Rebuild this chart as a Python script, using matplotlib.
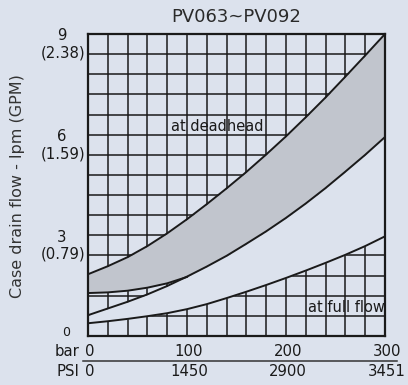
import numpy as np
import matplotlib
matplotlib.use('Agg')
import matplotlib.pyplot as plt
from matplotlib.lines import Line2D

plt.rcParams['font.family'] = 'DejaVu Sans'

# values, one per grid column (every 20 bar)
pressure_bar = [0, 20, 40, 60, 80, 100, 120, 140, 160, 180, 200, 220, 240, 260, 280, 300]
deadhead_upper = [1.84, 2.08, 2.35, 2.68, 3.06, 3.48, 3.93, 4.40, 4.89, 5.41, 5.95, 6.52, 7.11, 7.73, 8.36, 9.00]
deadhead_lower = [1.28, 1.30, 1.35, 1.44, 1.57, 1.76]   # 0..100 bar, then runs into band_top
band_top = [0.62, 0.82, 1.02, 1.24, 1.49, 1.77, 2.07, 2.39, 2.75, 3.12, 3.52, 3.95, 4.41, 4.90, 5.40, 5.93]
full_flow = [0.38, 0.44, 0.51, 0.59, 0.68, 0.80, 0.95, 1.13, 1.32, 1.52, 1.73, 1.95, 2.18, 2.42, 2.68, 2.97]

bar_ticks = [0, 100, 200, 300]
bar_labels = ['0', '100', '200', '300']
psi_labels = ['0', '1450', '2900', '3451']
lpm_ticks = [9, 6, 3]
lpm_labels = ['9', '6', '3']
gpm_labels = ['(2.38)', '(1.59)', '(0.79)']

bg = '#dce2ed'
band_gray = '#c1c5cd'
ink = '#1a1a1a'

fig = plt.figure(figsize=(4.08, 3.85), dpi=100, facecolor=bg)
ax = fig.add_axes([88 / 408, 49 / 385, 297 / 408, 302 / 385])
ax.set_facecolor(bg)
ax.set_xlim(0, 300)
ax.set_ylim(0, 9)

# grid paper
ax.set_xticks(np.arange(0, 301, 20))
ax.set_yticks(np.arange(0, 9.01, 0.6))
ax.grid(True, color=ink, linewidth=1.1, zorder=0)
ax.set_axisbelow(True)
ax.tick_params(length=0, labelbottom=False, labelleft=False)
for sp in ax.spines.values():
    sp.set_linewidth(1.6)
    sp.set_color(ink)
    sp.set_zorder(5)

# bands
x = np.array(pressure_bar)
lower = np.array(band_top, dtype=float)
n = len(deadhead_lower)
lower[:n] = np.maximum(deadhead_lower, lower[:n])
ax.fill_between(x, lower, deadhead_upper, color=band_gray, linewidth=0, zorder=2)
ax.fill_between(x, full_flow, band_top, color=bg, linewidth=0, zorder=2)

lw = 1.4
ax.plot(x, deadhead_upper, color=ink, lw=lw, zorder=3)
ax.plot(x[:n], deadhead_lower, color=ink, lw=lw, zorder=3)
ax.plot(x, band_top, color=ink, lw=lw, zorder=3)
ax.plot(x, full_flow, color=ink, lw=lw, zorder=3)

ax.text(131, 6.25, 'at deadhead', ha='center', va='center', fontsize=10.5, color=ink, zorder=4)
ax.text(261, 0.86, 'at full flow', ha='center', va='center', fontsize=10.5, color=ink, zorder=4)

fs = 10.7
# y labels: lpm with GPM underneath
for v, l, g in zip(lpm_ticks, lpm_labels, gpm_labels):
    ax.annotate(l, xy=(0, v), xytext=(-26, -2), textcoords='offset pixels',
                ha='center', va='center', fontsize=fs, color=ink, annotation_clip=False)
    ax.annotate(g, xy=(0, v), xytext=(-25, -19), textcoords='offset pixels',
                ha='center', va='center', fontsize=fs, color=ink, annotation_clip=False)
ax.annotate('0', xy=(0, 0), xytext=(-22, 3), textcoords='offset pixels',
            ha='center', va='center', fontsize=9, color=ink, annotation_clip=False)

# x labels: bar and PSI rows
for v, b, p in zip(bar_ticks, bar_labels, psi_labels):
    ax.annotate(b, xy=(v, 0), xytext=(2, -16), textcoords='offset pixels',
                ha='center', va='center', fontsize=fs, color=ink, annotation_clip=False)
    ax.annotate(p, xy=(v, 0), xytext=(2, -36), textcoords='offset pixels',
                ha='center', va='center', fontsize=fs, color=ink, annotation_clip=False)
ax.annotate('bar', xy=(0, 0), xytext=(-21, -16), textcoords='offset pixels',
            ha='center', va='center', fontsize=fs, color=ink, annotation_clip=False)
ax.annotate('PSI', xy=(0, 0), xytext=(-20, -36), textcoords='offset pixels',
            ha='center', va='center', fontsize=fs, color=ink, annotation_clip=False)
fig.add_artist(Line2D([83 / 408, 397 / 408], [1 - 361 / 385, 1 - 361 / 385],
                      color='#333333', lw=1.1, transform=fig.transFigure))

fig.text(236 / 408, 1 - 17 / 385, 'PV063~PV092', ha='center', va='center',
         fontsize=13, color='#2a2a2a')
fig.text(18 / 408, 1 - 186 / 385, 'Case drain flow - lpm (GPM)', rotation=90,
         ha='center', va='center', fontsize=11.5, color='#333333')

fig.savefig('out.png', dpi=100, facecolor=bg)
